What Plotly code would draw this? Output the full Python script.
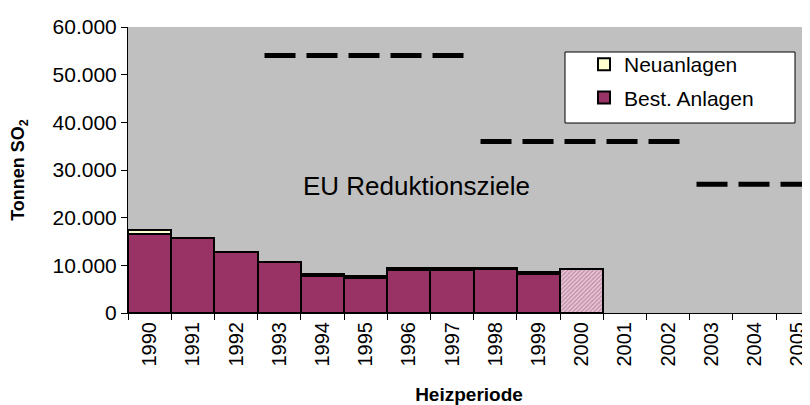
import plotly.graph_objects as go

# ---- data ----
years = [1990, 1991, 1992, 1993, 1994, 1995, 1996, 1997, 1998, 1999,
         2000, 2001, 2002, 2003, 2004, 2005]
best_years = [1990, 1991, 1992, 1993, 1994, 1995, 1996, 1997, 1998, 1999]
best_anlagen = [16500, 15800, 12900, 10800, 7800, 7400, 9000, 9000, 9300, 8200]
neuanlagen = [1000, 0, 0, 0, 420, 450, 430, 430, 150, 450]
prognose_years = [2000]
prognose = [9200]
target_start = [1993, 1998, 2003]
target_end = [1997, 2002, 2005]
target_value = [54000, 36000, 27000]
y_ticks = [0, 10000, 20000, 30000, 40000, 50000, 60000]

PURPLE = "#993366"
FONT = "Arial, Liberation Sans, sans-serif"

# the page body adds an 8px offset; compensate so the plot area sits
# at x 128..810, y 27..313 of the window
OFF = 8

fig = go.Figure()

fig.add_trace(go.Bar(
    x=best_years, y=best_anlagen, name="Best. Anlagen",
    marker=dict(color=PURPLE, line=dict(color="black", width=2)),
    width=1, legendgroup="b", legendrank=2,
))
fig.add_trace(go.Bar(
    x=best_years, y=neuanlagen, name="Neuanlagen",
    marker=dict(color="#FFFFCC", line=dict(color="black", width=2)),
    width=1, legendgroup="a", legendrank=1,
))
fig.add_trace(go.Bar(
    x=prognose_years, y=prognose, name="Prognose", showlegend=False,
    marker=dict(color="white", line=dict(color="black", width=2),
                pattern=dict(shape="/", fgcolor=PURPLE, bgcolor="white",
                             size=3, solidity=0.8)),
    width=1,
))

for s, e, v in zip(target_start, target_end, target_value):
    fig.add_trace(go.Scatter(
        x=[s - 0.34, e + 0.37], y=[v, v], mode="lines",
        line=dict(color="black", width=5, dash="31px,11px"),
        showlegend=False, hoverinfo="skip", cliponaxis=True,
    ))

fig.add_annotation(
    x=1996.17, y=26600, xref="x", yref="y", text="EU Reduktionsziele",
    showarrow=False, font=dict(family=FONT, size=26, color="black"),
)

# legend box
fig.add_shape(type="rect", xref="paper", yref="paper",
              x0=(565 - 128) / 682, x1=(795 - 128) / 682,
              y0=1 - (123 - 27) / 286, y1=1 - (52 - 27) / 286,
              fillcolor="white", line=dict(color="black", width=1), layer="above")

fig.update_layout(
    width=810 - OFF, height=405 - OFF,
    margin=dict(l=128 - OFF, r=0, t=27 - OFF, b=92, autoexpand=False),
    paper_bgcolor="white", plot_bgcolor="#C0C0C0",
    barmode="stack", bargap=0,
    separators=",.",
    font=dict(family=FONT, color="black"),
    showlegend=True,
    legend=dict(
        x=(584 - 128) / 682, y=1 - (44 - 27) / 286, xanchor="left", yanchor="top",
        bgcolor="rgba(0,0,0,0)", borderwidth=0,
        font=dict(family=FONT, size=21, color="black"),
        traceorder="grouped", tracegroupgap=3,
    ),
    xaxis=dict(
        range=[1989.5, 1989.5 + 682 / 43.2], automargin=False,
        tickvals=years, ticktext=[str(y) for y in years],
        tickangle=-90, ticks="", showgrid=False, zeroline=False,
        tickfont=dict(family=FONT, size=20, color="black"),
        showline=True, linecolor="black", linewidth=1,
        minor=dict(ticks="outside", tick0=1989.5, dtick=1, ticklen=6,
                   tickcolor="black", showgrid=False),
        title=dict(text="<b>Heizperiode</b>", standoff=22,
                   font=dict(family=FONT, size=19, color="black")),
    ),
    yaxis=dict(
        range=[0, 60000], tickvals=y_ticks, tickformat=",.0f", automargin=False,
        ticks="outside", ticklen=6, tickcolor="black",
        showgrid=False, zeroline=False,
        showline=True, linecolor="black", linewidth=1,
        tickfont=dict(family=FONT, size=21, color="black"),
        title=dict(text="<b>Tonnen SO<sub>2</sub></b>", standoff=24,
                   font=dict(family=FONT, size=18, color="black")),
    ),
)

fig.write_html("out.html")
